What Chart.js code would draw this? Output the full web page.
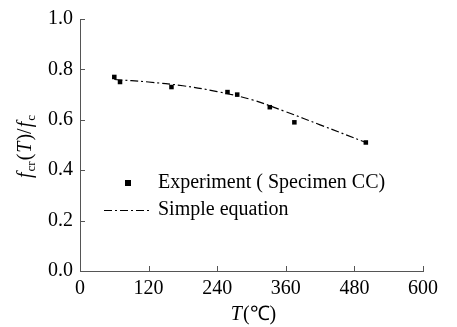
<!DOCTYPE html>
<html>
<head>
<meta charset="utf-8">
<script src="https://cdn.jsdelivr.net/npm/chart.js@4"></script>
<style>
  html, body { margin: 0; padding: 0; background: #fff; }
  #wrap { width: 457px; height: 327px; }
</style>
</head>
<body>
<div id="wrap"><canvas id="chart" width="457" height="327"></canvas></div>
<script>
const expT   = [60, 70, 160, 258, 275, 332, 375, 500];
const expVal = [0.77, 0.75, 0.73, 0.71, 0.70, 0.65, 0.59, 0.51];
const eqT    = [60, 120, 180, 240, 300, 360, 420, 500];
const eqVal  = [0.760, 0.750, 0.735, 0.712, 0.680, 0.632, 0.580, 0.510];
const xTicks = [0, 120, 240, 360, 480, 600];
const yTicks = [0.0, 0.2, 0.4, 0.6, 0.8, 1.0];

const SERIF = '"Liberation Serif", "Times New Roman", serif';

// inward ticks, titles and the legend drawn by hand
const decor = {
    id: 'decor',
    afterDraw(chart) {
        const c = chart.ctx;
        const xs = chart.scales.x, ys = chart.scales.y;
        const area = chart.chartArea;
        c.save();
        c.strokeStyle = '#555';
        c.lineWidth = 1;
        c.beginPath();
        xTicks.forEach(v => {
            const px = Math.round(xs.getPixelForValue(v)) + 0.5;
            c.moveTo(px, area.bottom);
            c.lineTo(px, area.bottom - 5);
        });
        yTicks.forEach(v => {
            const py = Math.round(ys.getPixelForValue(v)) + 0.5;
            c.moveTo(area.left, py);
            c.lineTo(area.left + 5, py);
        });
        c.stroke();

        c.fillStyle = '#000';
        c.textBaseline = 'alphabetic';

        // x title: T(℃)
        c.font = 'italic 20px ' + SERIF;
        let wT = c.measureText('T').width;
        c.font = '20px ' + SERIF;
        let wR = c.measureText('(℃)').width;
        let x0 = 253 - (wT + wR) / 2;
        c.font = 'italic 20px ' + SERIF;
        c.fillText('T', x0, 320);
        c.font = '20px ' + SERIF;
        c.fillText('(℃)', x0 + wT + 1, 320);

        // y title: f_cr(T)/f_c, rotated
        c.save();
        c.translate(31, 146);
        c.rotate(-Math.PI / 2);
        const parts = [
            ['f', 'italic 20px ', 0],
            ['cr', '13px ', 4],
            ['(', '20px ', 0],
            ['T', 'italic 20px ', 0],
            [')/', '20px ', 0],
            ['f', 'italic 20px ', 0],
            ['c', '13px ', 4],
        ];
        let total = 0;
        parts.forEach(p => { c.font = p[1] + SERIF; total += c.measureText(p[0]).width + 1; });
        let px = -total / 2;
        parts.forEach(p => {
            c.font = p[1] + SERIF;
            c.fillText(p[0], px, p[2]);
            px += c.measureText(p[0]).width + 1;
        });
        c.restore();

        // legend
        c.font = '20px ' + SERIF;
        c.textBaseline = 'middle';
        c.fillRect(125, 180, 6, 6);
        c.fillText('Experiment ( Specimen CC)', 158, 183);
        c.strokeStyle = '#000';
        c.lineWidth = 1.2;
        c.setLineDash([8, 3, 2, 3]);
        c.beginPath();
        c.moveTo(104, 210.5);
        c.lineTo(152, 210.5);
        c.stroke();
        c.setLineDash([]);
        c.fillText('Simple equation', 158, 210);
        c.restore();
    }
};

new Chart(document.getElementById('chart'), {
    type: 'scatter',
    data: {
        datasets: [
            {
                label: 'Experiment ( Specimen CC)',
                data: expT.map((t, i) => ({ x: t, y: expVal[i] })),
                pointStyle: 'rect',
                pointRadius: 3.2,
                backgroundColor: '#000',
                borderColor: '#000',
                borderWidth: 0,
                showLine: false,
            },
            {
                label: 'Simple equation',
                data: eqT.map((t, i) => ({ x: t, y: eqVal[i] })),
                showLine: true,
                pointRadius: 0,
                borderColor: '#000',
                borderWidth: 1.2,
                borderDash: [8, 3, 2, 3],
                tension: 0.4,
            },
        ],
    },
    plugins: [decor],
    options: {
        responsive: false,
        animation: false,
        layout: { padding: { top: 19, right: 34, left: 0, bottom: 0 } },
        plugins: { legend: { display: false }, tooltip: { enabled: false } },
        scales: {
            x: {
                type: 'linear',
                min: 0,
                max: 600,
                afterBuildTicks: s => { s.ticks = xTicks.map(v => ({ value: v })); },
                afterFit: s => { s.height = 56; },
                grid: { display: true, drawOnChartArea: false, drawTicks: false },
                border: { display: true, color: '#555', width: 1 },
                ticks: { color: '#000', font: { family: SERIF, size: 20 }, padding: 6, maxRotation: 0 },
            },
            y: {
                min: 0,
                max: 1,
                afterBuildTicks: s => { s.ticks = yTicks.map(v => ({ value: v })); },
                afterFit: s => { s.width = 80; },
                grid: { display: true, drawOnChartArea: false, drawTicks: false },
                border: { display: true, color: '#555', width: 1 },
                ticks: {
                    color: '#000',
                    font: { family: SERIF, size: 20 },
                    padding: 7,
                    callback: v => v.toFixed(1),
                },
            },
        },
    },
});
</script>
</body>
</html>
